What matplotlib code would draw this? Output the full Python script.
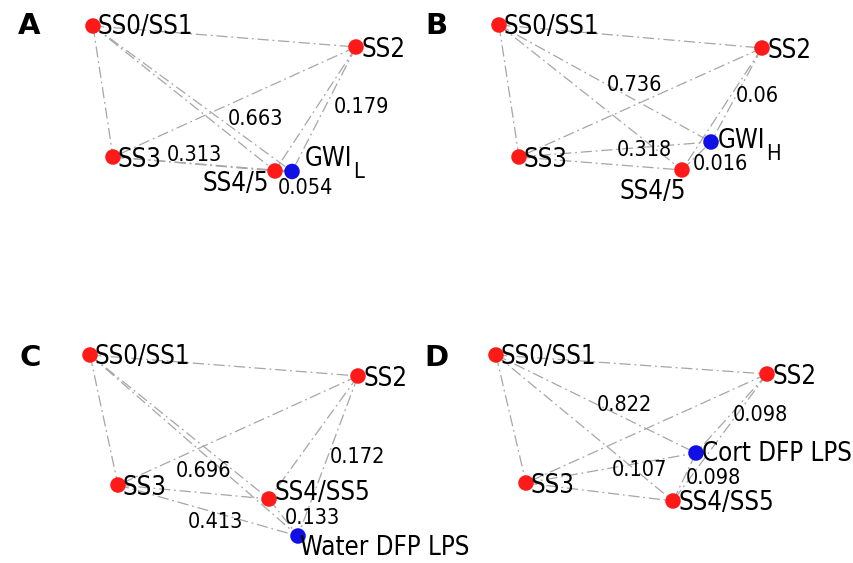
import matplotlib
matplotlib.use("Agg")
import matplotlib.pyplot as plt
from itertools import combinations

# ---------------- data ----------------
panel_letters = ["A", "B", "C", "D"]
stage_nodes_AB = ["SS0/SS1", "SS2", "SS3", "SS4/5"]
stage_nodes_CD = ["SS0/SS1", "SS2", "SS3", "SS4/SS5"]
blue_names = ["GWI", "GWI", "Water DFP LPS", "Cort DFP LPS"]
blue_subscripts = ["L", "H", "", ""]

# distances from the blue node to SS0/SS1, SS2, SS3, SS4/5
weights_A = [0.663, 0.179, 0.313, 0.054]
weights_B = [0.736, 0.06, 0.318, 0.016]
weights_C = [0.696, 0.172, 0.413, 0.133]
weights_D = [0.822, 0.098, 0.107, 0.098]

# network layout (x, y per node: SS0/SS1, SS2, SS3, SS4/5, blue)
layout_x_A = [93, 356, 113, 275, 292]
layout_y_A = [26, 47, 157, 171, 171.5]
layout_x_B = [72, 335, 92, 255, 284]
layout_y_B = [25, 48, 157, 170, 142]
layout_x_C = [90, 358, 118, 269, 298]
layout_y_C = [73.5, 94.5, 203.5, 217.5, 254.5]
layout_x_D = [69, 340, 99, 246, 269]
layout_y_D = [73.5, 92.5, 201.5, 219.5, 171.5]

# ---------------- styling / placement ----------------
W, H = 427, 281.5
NODE_FS = 18.5
EDGE_FS = 15.5
LETTER_FS = 21
STRETCH = "condensed"

# offsets (px) for edge-weight labels relative to edge midpoints (left aligned)
edge_lab_off = [
    [(35.5, 20), (10, -2), (-35.5, -9), (-5.5, 17)],
    [(2, 1.5), (-1, 1), (2, 0.5), (-4, 7.5)],
    [(-18, 25.5), (2, 1), (-20, 11.5), (1.5, 0.5)],
    [(1, 1), (1.5, 1.5), (1, 2), (1.5, 1)],
]
# node label placement: (dx, dy, ha)
node_lab = [
    [(5, 1, "left"), (6, 3, "left"), (5, 3, "left"), (-39, 13, "center"), (13, -12, "left")],
    [(5, 2, "left"), (6, 3, "left"), (5, 3, "left"), (-29, 22, "center"), (7, -0.5, "left")],
    [(5, 2, "left"), (6, 3, "left"), (5, 3, "left"), (6, -6, "left"), (2, 12, "left")],
    [(5, 2, "left"), (6, 3, "left"), (5, 3, "left"), (6, 2, "left"), (6, 1, "left")],
]
letter_pos = [(29.5, 26.5), (9.5, 26.5), (30, 77), (9.5, 76.5)]

weights = [weights_A, weights_B, weights_C, weights_D]
lxs = [layout_x_A, layout_x_B, layout_x_C, layout_x_D]
lys = [layout_y_A, layout_y_B, layout_y_C, layout_y_D]
stage_sets = [stage_nodes_AB, stage_nodes_AB, stage_nodes_CD, stage_nodes_CD]

plt.rcParams["font.family"] = ["DejaVu Sans"]
fig = plt.figure(figsize=(8.54, 5.63), dpi=100)

for p in range(4):
    row, col = divmod(p, 2)
    ax = fig.add_axes([col * 0.5, 1 - (row + 1) * 0.5, 0.5, 0.5])
    ax.set_xlim(0, W)
    ax.set_ylim(H, 0)
    ax.axis("off")
    xs, ys = lxs[p], lys[p]
    names = stage_sets[p] + [blue_names[p]]
    n = len(xs)
    # complete graph edges
    for i, j in combinations(range(n), 2):
        ax.plot([xs[i], xs[j]], [ys[i], ys[j]], color="#a6a6a6", lw=0.9,
                linestyle=(0, (9, 3, 1.5, 3)), zorder=1)
    # nodes
    ax.scatter(xs[:4], ys[:4], s=125, color="#ff1a1a", edgecolors="none", zorder=3)
    ax.scatter(xs[4:], ys[4:], s=125, color="#1010e6", edgecolors="none", zorder=3)
    # node labels
    for k in range(n):
        dx, dy, ha = node_lab[p][k]
        t = ax.text(xs[k] + dx, ys[k] + dy, names[k], fontsize=NODE_FS, ha=ha,
                    va="center", color="black", zorder=4, clip_on=False,
                    fontstretch=STRETCH)
        if k == 4 and blue_subscripts[p]:
            ax.annotate(blue_subscripts[p], xy=(1, 0), xycoords=t,
                        xytext=(0.5, 0), textcoords="offset points",
                        fontsize=NODE_FS * 0.85, ha="left", va="center",
                        fontstretch=STRETCH)
    # edge weight labels
    for k in range(4):
        mx = (xs[k] + xs[4]) / 2
        my = (ys[k] + ys[4]) / 2
        ox, oy = edge_lab_off[p][k]
        ax.text(mx + ox, my + oy, f"{weights[p][k]:g}", fontsize=EDGE_FS,
                ha="left", va="center", color="black", zorder=4,
                fontstretch=STRETCH)
    lx, ly = letter_pos[p]
    ax.text(lx, ly, panel_letters[p], fontsize=LETTER_FS, fontweight="heavy",
            ha="center", va="center", color="black")

fig.savefig("out.png", dpi=100)
